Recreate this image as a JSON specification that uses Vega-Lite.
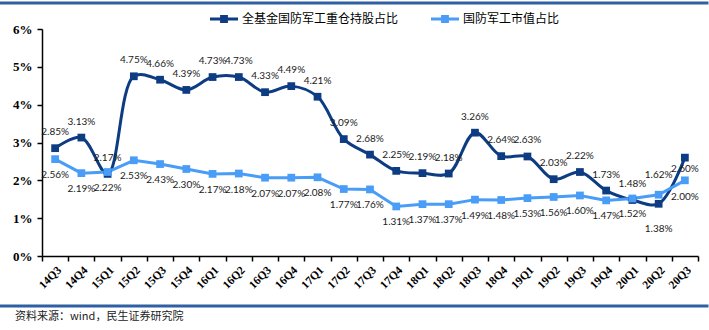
{
  "$schema": "https://vega.github.io/schema/vega-lite/v6.json",
  "width": 656,
  "height": 227,
  "autosize": {"type": "none"},
  "padding": {"left": 42, "top": 29, "right": 11, "bottom": 74},
  "background": "white",
  "config": {
    "view": {"stroke": null},
    "axisY": {
      "title": null,
      "labelOverlap": false,
      "grid": false,
      "labelFont": "Liberation Serif",
      "labelFontWeight": "bold",
      "labelFontSize": 13,
      "labelColor": "#000",
      "domainColor": "#000",
      "domainWidth": 1.5,
      "tickColor": "#000",
      "tickWidth": 1.5,
      "tickSize": 5,
      "labelPadding": 5
    }
  },
  "title": {
    "text": "资料来源：wind，民生证券研究院",
    "orient": "bottom",
    "anchor": "start",
    "frame": "group",
    "dx": -27,
    "offset": 4,
    "font": "Noto Sans CJK SC",
    "fontSize": 11,
    "fontWeight": "normal",
    "color": "#222"
  },
  "datasets": {
    "d": [
      {"q": "14Q3", "s": "全基金国防军工重仓持股占比", "v": 2.85},
      {"q": "14Q4", "s": "全基金国防军工重仓持股占比", "v": 3.13},
      {"q": "15Q1", "s": "全基金国防军工重仓持股占比", "v": 2.17},
      {"q": "15Q2", "s": "全基金国防军工重仓持股占比", "v": 4.75},
      {"q": "15Q3", "s": "全基金国防军工重仓持股占比", "v": 4.66},
      {"q": "15Q4", "s": "全基金国防军工重仓持股占比", "v": 4.39},
      {"q": "16Q1", "s": "全基金国防军工重仓持股占比", "v": 4.73},
      {"q": "16Q2", "s": "全基金国防军工重仓持股占比", "v": 4.73},
      {"q": "16Q3", "s": "全基金国防军工重仓持股占比", "v": 4.33},
      {"q": "16Q4", "s": "全基金国防军工重仓持股占比", "v": 4.49},
      {"q": "17Q1", "s": "全基金国防军工重仓持股占比", "v": 4.21},
      {"q": "17Q2", "s": "全基金国防军工重仓持股占比", "v": 3.09},
      {"q": "17Q3", "s": "全基金国防军工重仓持股占比", "v": 2.68},
      {"q": "17Q4", "s": "全基金国防军工重仓持股占比", "v": 2.25},
      {"q": "18Q1", "s": "全基金国防军工重仓持股占比", "v": 2.19},
      {"q": "18Q2", "s": "全基金国防军工重仓持股占比", "v": 2.18},
      {"q": "18Q3", "s": "全基金国防军工重仓持股占比", "v": 3.26},
      {"q": "18Q4", "s": "全基金国防军工重仓持股占比", "v": 2.64},
      {"q": "19Q1", "s": "全基金国防军工重仓持股占比", "v": 2.63},
      {"q": "19Q2", "s": "全基金国防军工重仓持股占比", "v": 2.03},
      {"q": "19Q3", "s": "全基金国防军工重仓持股占比", "v": 2.22},
      {"q": "19Q4", "s": "全基金国防军工重仓持股占比", "v": 1.73},
      {"q": "20Q1", "s": "全基金国防军工重仓持股占比", "v": 1.48},
      {"q": "20Q2", "s": "全基金国防军工重仓持股占比", "v": 1.38},
      {"q": "20Q3", "s": "全基金国防军工重仓持股占比", "v": 2.60},
      {"q": "14Q3", "s": "国防军工市值占比", "v": 2.56},
      {"q": "14Q4", "s": "国防军工市值占比", "v": 2.19},
      {"q": "15Q1", "s": "国防军工市值占比", "v": 2.22},
      {"q": "15Q2", "s": "国防军工市值占比", "v": 2.53},
      {"q": "15Q3", "s": "国防军工市值占比", "v": 2.43},
      {"q": "15Q4", "s": "国防军工市值占比", "v": 2.30},
      {"q": "16Q1", "s": "国防军工市值占比", "v": 2.17},
      {"q": "16Q2", "s": "国防军工市值占比", "v": 2.18},
      {"q": "16Q3", "s": "国防军工市值占比", "v": 2.07},
      {"q": "16Q4", "s": "国防军工市值占比", "v": 2.07},
      {"q": "17Q1", "s": "国防军工市值占比", "v": 2.08},
      {"q": "17Q2", "s": "国防军工市值占比", "v": 1.77},
      {"q": "17Q3", "s": "国防军工市值占比", "v": 1.76},
      {"q": "17Q4", "s": "国防军工市值占比", "v": 1.31},
      {"q": "18Q1", "s": "国防军工市值占比", "v": 1.37},
      {"q": "18Q2", "s": "国防军工市值占比", "v": 1.37},
      {"q": "18Q3", "s": "国防军工市值占比", "v": 1.49},
      {"q": "18Q4", "s": "国防军工市值占比", "v": 1.48},
      {"q": "19Q1", "s": "国防军工市值占比", "v": 1.53},
      {"q": "19Q2", "s": "国防军工市值占比", "v": 1.56},
      {"q": "19Q3", "s": "国防军工市值占比", "v": 1.60},
      {"q": "19Q4", "s": "国防军工市值占比", "v": 1.47},
      {"q": "20Q1", "s": "国防军工市值占比", "v": 1.52},
      {"q": "20Q2", "s": "国防军工市值占比", "v": 1.62},
      {"q": "20Q3", "s": "国防军工市值占比", "v": 2.00}
    ]
  },
  "layer": [
    {
      "data": {"values": [{}]},
      "mark": {"type": "rule", "color": "#2f60a3", "strokeWidth": 3, "clip": false},
      "encoding": {
        "x": {"datum": -0.064, "type": "quantitative", "scale": {"domain": [0, 1]}, "axis": null},
        "x2": {"datum": 1.016},
        "y": {"datum": 6.69, "type": "quantitative", "axis": {"values": [0, 1, 2, 3, 4, 5, 6], "labelExpr": "datum.value + '%'"}}
      }
    },
    {
      "data": {"values": [{}]},
      "mark": {"type": "rule", "color": "#2f60a3", "strokeWidth": 3, "clip": false},
      "encoding": {
        "x": {"datum": -0.064, "type": "quantitative", "scale": {"domain": [0, 1]}, "axis": null},
        "x2": {"datum": 1.016},
        "y": {"datum": -1.32, "type": "quantitative", "axis": {"values": [0, 1, 2, 3, 4, 5, 6], "labelExpr": "datum.value + '%'"}}
      }
    },
    {
      "data": {"name": "d"},
      "transform": [{"calculate": "format(datum.v, '.2f') + '%'", "as": "label"}],
      "encoding": {
        "x": {
          "field": "q",
          "type": "ordinal",
          "sort": null,
          "scale": {"type": "band", "paddingInner": 0, "paddingOuter": 0},
          "axis": {
            "title": null,
            "labelAngle": -45,
            "tickBand": "extent",
            "labelFont": "Liberation Serif",
            "labelFontWeight": "bold",
            "labelFontSize": 11.5,
            "labelColor": "#000",
            "domainColor": "#000",
            "domainWidth": 1.5,
            "tickColor": "#000",
            "tickWidth": 1.5,
            "tickSize": 5,
            "labelPadding": 3
          }
        },
        "y": {
          "field": "v",
          "type": "quantitative",
          "scale": {"domain": [0, 6]},
          "axis": {"values": [0, 1, 2, 3, 4, 5, 6], "labelExpr": "datum.value + '%'"}
        },
        "color": {
          "field": "s",
          "type": "nominal",
          "scale": {"domain": ["全基金国防军工重仓持股占比", "国防军工市值占比"], "range": ["#0d3c83", "#4a9df6"]},
          "legend": {
            "title": null,
            "orient": "none",
            "legendX": 168,
            "legendY": -24,
            "direction": "horizontal",
            "symbolType": "M-1,-0.1L1,-0.1L1,0.1L-1,0.1Z M-0.28,-0.28L0.28,-0.28L0.28,0.28L-0.28,0.28Z",
            "symbolSize": 784,
            "symbolStrokeWidth": 0,
            "labelFont": "Noto Sans CJK SC",
            "labelFontSize": 12,
            "labelColor": "#000",
            "labelOffset": 4,
            "columnPadding": 32,
            "encode": {"symbols": {"update": {"fill": {"scale": "color", "field": "value"}, "stroke": {"value": "transparent"}}}}
          }
        }
      },
      "layer": [
        {
          "transform": [{"filter": "datum.s == '全基金国防军工重仓持股占比'"}],
          "mark": {"type": "line", "interpolate": "catmull-rom", "strokeWidth": 3}
        },
        {
          "transform": [{"filter": "datum.s == '国防军工市值占比'"}],
          "mark": {"type": "line", "interpolate": "linear", "strokeWidth": 3}
        },
        {
          "mark": {"type": "point", "shape": "square", "filled": true, "size": 60, "opacity": 1}
        },
        {
          "transform": [{"filter": "datum.s == '全基金国防军工重仓持股占比' && datum.q != '20Q2' && datum.q != '20Q3'"}],
          "mark": {"type": "text", "dy": -16, "font": "Lato", "fontSize": 10, "baseline": "middle"},
          "encoding": {"text": {"field": "label"}, "color": {"value": "#1a1a1a"}}
        },
        {
          "transform": [{"filter": "datum.s == '全基金国防军工重仓持股占比' && datum.q == '20Q2'"}],
          "mark": {"type": "text", "dy": 25, "font": "Lato", "fontSize": 10, "baseline": "middle"},
          "encoding": {"text": {"field": "label"}, "color": {"value": "#1a1a1a"}}
        },
        {
          "transform": [{"filter": "datum.s == '全基金国防军工重仓持股占比' && datum.q == '20Q3'"}],
          "mark": {"type": "text", "dy": 11, "font": "Lato", "fontSize": 10, "baseline": "middle"},
          "encoding": {"text": {"field": "label"}, "color": {"value": "#1a1a1a"}}
        },
        {
          "transform": [{"filter": "datum.s == '国防军工市值占比' && datum.q != '20Q2' && datum.q != '20Q3'"}],
          "mark": {"type": "text", "dy": 16, "font": "Lato", "fontSize": 10, "baseline": "middle"},
          "encoding": {"text": {"field": "label"}, "color": {"value": "#1a1a1a"}}
        },
        {
          "transform": [{"filter": "datum.s == '国防军工市值占比' && datum.q == '20Q2'"}],
          "mark": {"type": "text", "dy": -20, "font": "Lato", "fontSize": 10, "baseline": "middle"},
          "encoding": {"text": {"field": "label"}, "color": {"value": "#1a1a1a"}}
        },
        {
          "transform": [{"filter": "datum.s == '国防军工市值占比' && datum.q == '20Q3'"}],
          "mark": {"type": "text", "dy": 17, "font": "Lato", "fontSize": 10, "baseline": "middle"},
          "encoding": {"text": {"field": "label"}, "color": {"value": "#1a1a1a"}}
        }
      ]
    }
  ],
  "resolve": {"scale": {"x": "independent"}}
}
